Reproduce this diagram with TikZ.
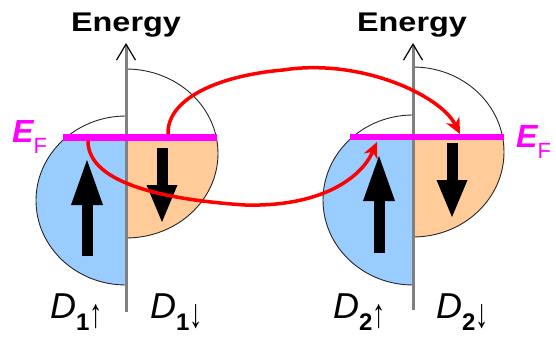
\documentclass[tikz,border=0pt]{standalone}
\usepackage{fontspec}
\setmainfont{Liberation Sans}
\usetikzlibrary{arrows.meta}
\definecolor{dosblue}{HTML}{99CCFF}
\definecolor{dosorange}{HTML}{FFCC99}
\definecolor{efmag}{HTML}{FF00FF}
\definecolor{axisgray}{HTML}{808080}
\newcommand{\Dlabel}[2]{{\fontsize{36}{36}\selectfont\itshape D}\raisebox{-12pt}{\fontsize{24}{24}\selectfont\bfseries #1}\raisebox{-9pt}{\scalebox{1.1}[1.7]{\fontsize{24}{24}\selectfont #2}}}
\newcommand{\EFlabel}{{\fontsize{32}{32}\selectfont\bfseries\itshape E}\raisebox{-11pt}{\fontsize{22}{22}\selectfont F}}
\begin{document}
\begin{tikzpicture}[x=1pt,y=-1pt,
  axisline/.style={axisgray, line width=3pt, -{Straight Barb[black,line width=1.2pt,length=16pt,width=19pt]}},
  fermi/.style={efmag, line width=6.5pt},
  dosline/.style={black!85, line width=0.9pt},
  spinup/.style={line width=11pt, -{Triangle[length=45pt,width=32pt,line width=0pt]}},
  spindown/.style={line width=11pt, -{Triangle[length=37pt,width=31pt,line width=0pt]}},
  hop/.style={red, line width=3.5pt, -{Stealth[length=16pt,width=15pt,line width=0pt]}},
  lbl/.style={anchor=base west, inner sep=0pt},
  energy/.style={anchor=base, inner sep=0pt, font=\fontsize{27}{27}\selectfont\bfseries}
]
\path[use as bounding box] (0,0) rectangle (556,337);

% ---------- panel 1 ----------
\begin{scope}
  \clip (20,137.5) rectangle (126,300);
  \fill[dosblue] (126,200.5) ellipse [x radius=90, y radius=84.5];
\end{scope}
\begin{scope}
  \clip (126,137.5) rectangle (240,300);
  \fill[dosorange] (126,153.5) ellipse [x radius=92, y radius=84.5];
\end{scope}
\begin{scope}
  \clip (20,60) rectangle (126,300);
  \draw[dosline] (126,200.5) ellipse [x radius=90, y radius=84.5];
\end{scope}
\begin{scope}
  \clip (126,60) rectangle (240,300);
  \draw[dosline] (126,153.5) ellipse [x radius=92, y radius=84.5];
\end{scope}
\coordinate (ax1b) at (126,312);
\coordinate (ax1t) at (126,43);
\draw[axisline] (ax1b) -- (ax1t);
\coordinate (ef1l) at (63,137.5);
\coordinate (ef1r) at (217,137.5);
\draw[fermi] (ef1l) -- (ef1r);

% ---------- panel 2 ----------
\begin{scope}
  \clip (300,137) rectangle (413,300);
  \fill[dosblue] (413,200) ellipse [x radius=90, y radius=85];
\end{scope}
\begin{scope}
  \clip (413,137) rectangle (530,300);
  \fill[dosorange] (413,152) ellipse [x radius=91, y radius=85];
\end{scope}
\begin{scope}
  \clip (300,60) rectangle (413,300);
  \draw[dosline] (413,200) ellipse [x radius=90, y radius=85];
\end{scope}
\begin{scope}
  \clip (413,60) rectangle (530,300);
  \draw[dosline] (413,152) ellipse [x radius=91, y radius=85];
\end{scope}
\coordinate (ax2b) at (413,310);
\coordinate (ax2t) at (413,43);
\draw[axisline] (ax2b) -- (ax2t);
\coordinate (ef2l) at (350,137);
\coordinate (ef2r) at (504,137);
\draw[fermi] (ef2l) -- (ef2r);

% ---------- spin arrows ----------
\coordinate (u1a) at (87,256);  \coordinate (u1b) at (87,160);
\coordinate (d1a) at (162,148); \coordinate (d1b) at (162,222);
\coordinate (u2a) at (379,253); \coordinate (u2b) at (379,156);
\coordinate (d2a) at (452,143); \coordinate (d2b) at (452,217);
\draw[spinup] (u1a) -- (u1b);
\draw[spindown] (d1a) -- (d1b);
\draw[spinup] (u2a) -- (u2b);
\draw[spindown] (d2a) -- (d2b);

% ---------- hopping arrows ----------
\coordinate (h1s) at (168,134);
\coordinate (h1m) at (283,70);
\coordinate (h1e) at (460,134);
\draw[hop] (h1s) .. controls (167,100) and (215,76) .. (h1m)
                 .. controls (360,58) and (440,95) .. (h1e);
\coordinate (h2s) at (88,141);
\coordinate (h2m) at (245,205);
\coordinate (h2e) at (377,142);
\draw[hop] (h2s) .. controls (88,185) and (170,200) .. (h2m)
                 .. controls (318,207) and (360,180) .. (h2e);

% ---------- labels ----------
\node[energy] (en1) at (126,32) {\scalebox{1.2}[1]{Energy}};
\node[energy] (en2) at (412,32) {\scalebox{1.2}[1]{Energy}};
\node[lbl, text=efmag] (ef1) at (12,142) {\EFlabel};
\node[lbl, text=efmag] (ef2) at (516,147) {\EFlabel};
\node[lbl] (dl1u) at (50,318) {\Dlabel{1}{↑}};
\node[lbl] (dl1d) at (150,318) {\Dlabel{1}{↓}};
\node[lbl] (dl2u) at (333,318) {\Dlabel{2}{↑}};
\node[lbl] (dl2d) at (436,318) {\Dlabel{2}{↓}};
\end{tikzpicture}
\end{document}
